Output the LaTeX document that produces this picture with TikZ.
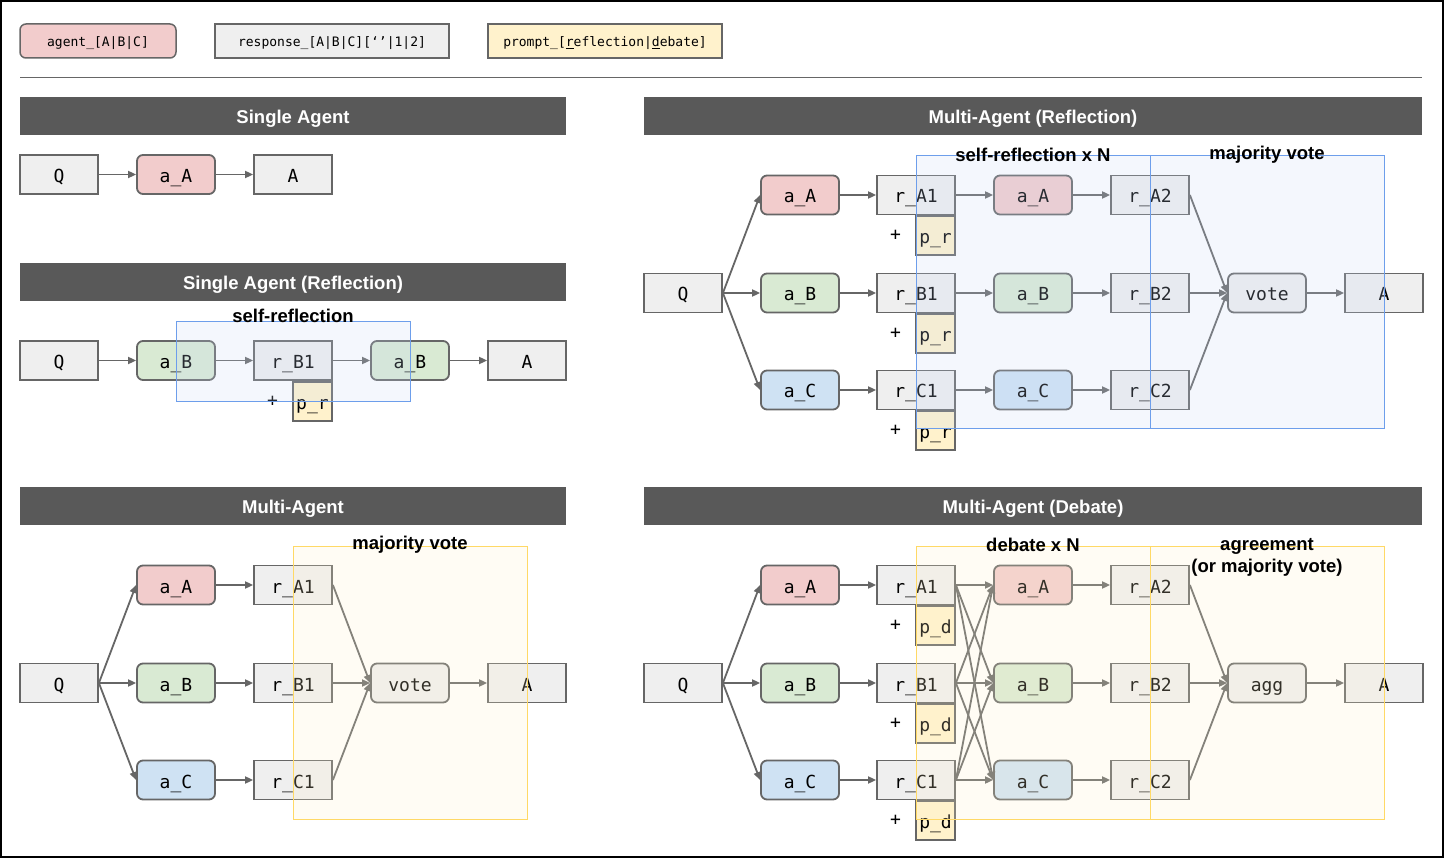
\documentclass[tikz,border=0pt]{standalone}
\usepackage{fontspec}
\setmainfont{Liberation Sans}
\setmonofont{DejaVu Sans Mono}
\usepackage{tikz}
\usetikzlibrary{arrows.meta, positioning}
\definecolor{agentred}{HTML}{F2CCCC}
\definecolor{agentgreen}{HTML}{D9EAD3}
\definecolor{agentblue}{HTML}{CFE2F3}
\definecolor{respgray}{HTML}{EFEFEF}
\definecolor{promptyellow}{HTML}{FFF2CC}
\definecolor{edgegray}{HTML}{666666}
\definecolor{headergray}{HTML}{595959}
\definecolor{regionblue}{HTML}{6D9EEB}
\definecolor{regionbluefill}{HTML}{C9DAF8}
\definecolor{regionyellow}{HTML}{FFD966}
\definecolor{regionyellowfill}{HTML}{FFF2CC}

\tikzset{
  resp/.style={draw=edgegray, line width=1.8pt, fill=respgray, minimum width=78pt,
    minimum height=39pt, inner sep=0pt, text height=16pt, text depth=0pt,
    font=\ttfamily\fontsize{18}{20}\selectfont},
  agent/.style={resp, rounded corners=6pt},
  prmt/.style={resp, fill=promptyellow, minimum width=39pt},
  plus/.style={inner sep=0pt, font=\ttfamily\fontsize{18}{20}\selectfont},
  legendbox/.style={draw=edgegray, line width=1.5pt, minimum height=34pt, inner sep=0pt,
    text height=11pt, text depth=0pt, font=\ttfamily\fontsize{13}{15}\selectfont},
  header/.style={fill=headergray, minimum width=546pt, minimum height=38pt, inner sep=0pt,
    text height=15pt, text depth=0pt, text=white, font=\bfseries\fontsize{18.5}{20}\selectfont},
  flow/.style={draw=edgegray, line width=1.8pt, -{Triangle[length=8pt,width=7pt]}},
  regionb/.style={draw=regionblue, line width=1pt, fill=regionbluefill, fill opacity=0.2},
  regiony/.style={draw=regionyellow, line width=1pt, fill=regionyellowfill, fill opacity=0.2},
  regionlabel/.style={inner sep=0pt, align=center, font=\bfseries\fontsize{18.5}{22}\selectfont}
}

\begin{document}
\begin{tikzpicture}[x=1pt, y=-1pt]
    \useasboundingbox (0,0) rectangle (1444,858);
    \fill[white] (0,0) rectangle (1444,858);
    \draw[black, line width=2pt] (1,1) rectangle (1443,857);

    % Legend
    \node[legendbox, fill=agentred, rounded corners=6pt, minimum width=156pt] (lgAgent) at (98,41) {agent\_[A|B|C]};
    \node[legendbox, fill=respgray, minimum width=234pt] (lgResp) at (332,41) {response\_[A|B|C][‘’|1|2]};
    \node[legendbox, fill=promptyellow, minimum width=234pt] (lgPrompt) at (605,41) {prompt\_[\underline{r}eflection|\underline{d}ebate]};
    \draw[edgegray, line width=1pt] (20,78) -- (1422,78);

    % Headers
    \node[header] (hSA) at (293,116) {Single Agent};
    \node[header] (hSR) at (293,282) {Single Agent (Reflection)};
    \node[header] (hMA) at (293,506) {Multi-Agent};
    \node[header, minimum width=778pt] (hMR) at (1033,116) {Multi-Agent (Reflection)};
    \node[header, minimum width=778pt] (hMD) at (1033,506) {Multi-Agent (Debate)};

    % Single Agent
    \node[resp] (saQ) at (59,174.5) {Q};
    \node[agent, fill=agentred] (saA) at (176,174.5) {a\_A};
    \node[resp] (saAns) at (293,174.5) {A};
    \draw[flow] (saQ) -- (saA);
    \draw[flow] (saA) -- (saAns);

    % Single Agent (Reflection)
    \node[resp] (srQ) at (59,360.5) {Q};
    \node[agent, fill=agentgreen] (srB) at (176,360.5) {a\_B};
    \node[resp] (srrB) at (293,360.5) {r\_B1};
    \node[prmt, anchor=north east] (srpB) at (srrB.south east) {p\_r};
    \node[plus, left=14pt of srpB] (srplus) {+};
    \node[agent, fill=agentgreen] (srB2) at (410,360.5) {a\_B};
    \node[resp] (srAns) at (527,360.5) {A};
    \draw[flow] (srQ) -- (srB);
    \draw[flow] (srB) -- (srrB);
    \draw[flow] (srrB) -- (srB2);
    \draw[flow] (srB2) -- (srAns);
    \draw[regionb] (176,322) rectangle (410,402);
    \node[regionlabel] (srlabel) at (293,316) {self-reflection};

    % Multi-Agent
    \node[resp] (maQ) at (59,683) {Q};
    \node[agent] (mavote) at (410,683) {vote};
    \node[resp] (maAns) at (527,683) {A};
    \foreach \n/\y/\c in {A/585/agentred, B/683/agentgreen, C/780/agentblue} {
        \node[agent, fill=\c] (ma\n) at (176,\y) {a\_\n};
        \node[resp] (mar\n) at (293,\y) {r\_\n1};
        \draw[flow] (maQ.east) -- (ma\n.west);
        \draw[flow] (ma\n) -- (mar\n);
        \draw[flow] (mar\n.east) -- (mavote.west);
    }
    \draw[flow] (mavote) -- (maAns);
    \draw[regiony] (293,546) rectangle (527,819);
    \node[regionlabel] (malabel) at (410,545) {majority vote};

    % Multi-Agent (Reflection)
    \node[resp] (mrQ) at (683,293) {Q};
    \node[agent] (mrvote) at (1267,293) {vote};
    \node[resp] (mrAns) at (1384,293) {A};
    \foreach \n/\y/\c in {A/195/agentred, B/293/agentgreen, C/390/agentblue} {
        \node[agent, fill=\c] (mr\n) at (800,\y) {a\_\n};
        \node[resp] (mrr\n) at (916,\y) {r\_\n1};
        \node[prmt, anchor=north east] (mrp\n) at (mrr\n.south east) {p\_r};
        \node[plus, left=14pt of mrp\n] {+};
        \node[agent, fill=\c] (mr\n2) at (1033,\y) {a\_\n};
        \node[resp] (mrr\n2) at (1150,\y) {r\_\n2};
        \draw[flow] (mrQ.east) -- (mr\n.west);
        \draw[flow] (mr\n) -- (mrr\n);
        \draw[flow] (mrr\n) -- (mr\n2);
        \draw[flow] (mr\n2) -- (mrr\n2);
        \draw[flow] (mrr\n2.east) -- (mrvote.west);
    }
    \draw[flow] (mrvote) -- (mrAns);
    \draw[regionb] (916,156) rectangle (1150,429);
    \draw[regionb] (1150,156) rectangle (1384,429);
    \node[regionlabel] (mrlabel1) at (1033,155) {self-reflection x N};
    \node[regionlabel] (mrlabel2) at (1267,155) {majority vote};

    % Multi-Agent (Debate)
    \node[resp] (mdQ) at (683,683) {Q};
    \node[agent] (mdagg) at (1267,683) {agg};
    \node[resp] (mdAns) at (1384,683) {A};
    \foreach \n/\y/\c in {A/585/agentred, B/683/agentgreen, C/780/agentblue} {
        \node[agent, fill=\c] (md\n) at (800,\y) {a\_\n};
        \node[resp] (mdr\n) at (916,\y) {r\_\n1};
        \node[prmt, anchor=north east] (mdp\n) at (mdr\n.south east) {p\_d};
        \node[plus, left=14pt of mdp\n] {+};
        \node[agent, fill=\c] (md\n2) at (1033,\y) {a\_\n};
        \node[resp] (mdr\n2) at (1150,\y) {r\_\n2};
        \draw[flow] (mdQ.east) -- (md\n.west);
        \draw[flow] (md\n) -- (mdr\n);
        \draw[flow] (md\n2) -- (mdr\n2);
        \draw[flow] (mdr\n2.east) -- (mdagg.west);
    }
    \foreach \s in {A,B,C}
        \foreach \t in {A,B,C}
            \draw[flow] (mdr\s.east) -- (md\t2.west);
    \draw[flow] (mdagg) -- (mdAns);
    \draw[regiony] (916,546) rectangle (1150,819);
    \draw[regiony] (1150,546) rectangle (1384,819);
    \node[regionlabel] (mdlabel1) at (1033,545) {debate x N};
    \node[regionlabel] (mdlabel2) at (1267,557) {agreement\\(or majority vote)};
\end{tikzpicture}
\end{document}
